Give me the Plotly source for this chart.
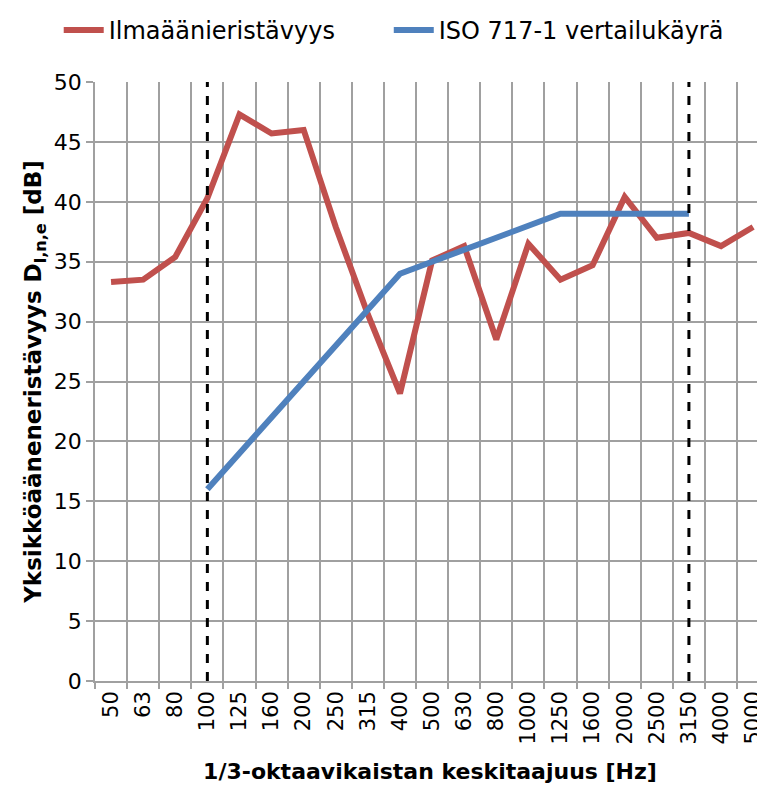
import plotly.graph_objects as go

categories = ["50", "63", "80", "100", "125", "160", "200", "250", "315", "400",
              "500", "630", "800", "1000", "1250", "1600", "2000", "2500", "3150",
              "4000", "5000"]
airborne = [33.3, 33.5, 35.4, 40.3, 47.3, 45.7, 46.0, 37.9, 30.6, 24.0,
            35.1, 36.3, 28.5, 36.5, 33.5, 34.7, 40.4, 37.0, 37.4, 36.3, 37.9]
ref_categories = ["100", "125", "160", "200", "250", "315", "400", "500", "630",
                  "800", "1000", "1250", "1600", "2000", "2500", "3150"]
ref_curve = [16, 19, 22, 25, 28, 31, 34, 35, 36, 37, 38, 39, 39, 39, 39, 39]
limit_categories = ["100", "3150"]
y_ticks = [0, 5, 10, 15, 20, 25, 30, 35, 40, 45, 50]

idx = {c: i for i, c in enumerate(categories)}
FONT = "DejaVu Sans"
GRID = "#A0A0A0"

fig = go.Figure()
fig.add_trace(go.Scatter(
    x=[idx[c] for c in categories], y=airborne, mode="lines",
    name="Ilmaäänieristävyys", legend="legend",
    line=dict(color="#C0504D", width=6)))
fig.add_trace(go.Scatter(
    x=[idx[c] for c in ref_categories], y=ref_curve, mode="lines",
    name="ISO 717-1 vertailukäyrä", legend="legend2",
    line=dict(color="#4F81BD", width=6)))
for c in limit_categories:
    fig.add_trace(go.Scatter(
        x=[idx[c], idx[c]], y=[y_ticks[0], y_ticks[-1]], mode="lines",
        showlegend=False, hoverinfo="skip",
        line=dict(color="black", width=3, dash="dash")))

n = len(categories)
legend_common = dict(orientation="h", xref="container", yref="container",
                     y=1.0, xanchor="left", yanchor="top",
                     font=dict(family=FONT, size=24), itemwidth=40,
                     bgcolor="rgba(0,0,0,0)")
fig.update_layout(
    width=757, height=782, autosize=False,
    margin=dict(l=87, r=0, t=74, b=109),
    paper_bgcolor="white", plot_bgcolor="white",
    font=dict(family=FONT, size=20, color="black"),
    legend=dict(x=0.067, **legend_common),
    legend2=dict(x=0.503, **legend_common),
    xaxis=dict(
        range=[-0.5, n - 0.63],
        tickmode="array", tickvals=list(range(n)), ticktext=categories,
        tickangle=-90, ticks="", showgrid=False, zeroline=False,
        showline=True, linecolor=GRID, linewidth=1.5,
        tickfont=dict(family=FONT, size=21),
        minor=dict(tickmode="array", tickvals=[i - 0.5 for i in range(n + 1)],
                   showgrid=True, gridcolor=GRID, gridwidth=1.5,
                   ticks="outside", ticklen=6, tickcolor=GRID, tickwidth=1.5),
        title=dict(text="<b>1/3-oktaavikaistan keskitaajuus [Hz]</b>",
                   font=dict(family=FONT, size=22), standoff=20),
    ),
    yaxis=dict(
        range=[0, 50], tickmode="array", tickvals=y_ticks,
        showgrid=True, gridcolor=GRID, gridwidth=1.5, zeroline=False,
        showline=True, linecolor=GRID, linewidth=1.5,
        ticks="outside", ticklen=7, tickcolor=GRID, tickwidth=1.5,
        tickfont=dict(family=FONT, size=22),
        title=dict(text="<b>Yksikköääneneristävyys D<sub>l,n,e</sub> [dB]</b>",
                   font=dict(family=FONT, size=23), standoff=6),
    ),
)
fig.write_html("out.html")
